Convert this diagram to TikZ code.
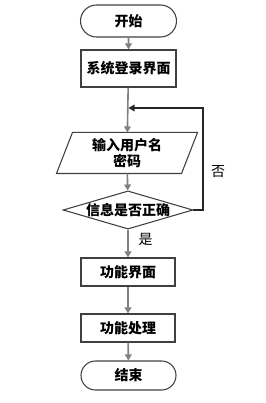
\documentclass[tikz,border=0pt]{standalone}
\usepackage{fontspec}
\newfontfamily\cjk{Noto Sans CJK SC}
\usetikzlibrary{arrows.meta,shapes.geometric,shapes.misc}
\tikzset{
  box/.style={draw=black!75,line width=.8pt,inner sep=0pt,font=\cjk\bfseries\fontsize{10.5}{12}\selectfont},
  term/.style={box,rounded rectangle},
  flow/.style={draw=black!50,line width=1.2pt,-{Triangle[length=4.5pt,width=5pt]}}
}
\begin{document}
\begin{tikzpicture}[x=.75pt,y=.75pt]
\useasboundingbox (0,0) rectangle (265,403);
\node[term,minimum width=72pt,minimum height=24pt] (start) at (128.5,382) {开始};
\node[box,minimum width=71.25pt,minimum height=27.75pt] (login) at (128.5,334.5) {系统登录界面};
\node[box,draw=none,minimum width=93pt,minimum height=30pt,align=center] (input) at (127,250) {输入用户名\\密码};
\draw[draw=black!75,line width=.8pt] ([xshift=-6pt]input.south west) -- ([xshift=6pt]input.north west)
  -- ([xshift=6pt]input.north east) -- ([xshift=-6pt]input.south east) -- cycle;
\node[box,diamond,aspect=3.4] (check) at (128,193) {信息是否正确};
\node[box,minimum width=70.5pt,minimum height=21pt] (func) at (128,131) {功能界面};
\node[box,minimum width=70.5pt,minimum height=21pt] (proc) at (128,75) {功能处理};
\node[term,minimum width=71.25pt,minimum height=21.75pt] (stop) at (128.5,27.5) {结束};
\coordinate (join) at (128.5,295);
\coordinate (back) at (203,295);
\draw[flow] (start) -- (login);
\draw[flow] (login) -- (input);
\draw[flow] (input) -- (check);
\draw[flow] (check) -- node[pos=.35,right=4pt,font=\cjk\fontsize{10.5}{12}\selectfont,text=black] (yes) {是} (func);
\draw[flow] (func) -- (proc);
\draw[flow] (proc) -- (stop);
\draw[draw=black!85,line width=.8pt,-{Triangle[length=4.5pt,width=5pt]}] (check.east) -- (back |- check.east) -- (back) -- (join);
\node[font=\cjk\fontsize{10.5}{12}\selectfont] (no) at (218,231) {否};
\end{tikzpicture}
\end{document}
